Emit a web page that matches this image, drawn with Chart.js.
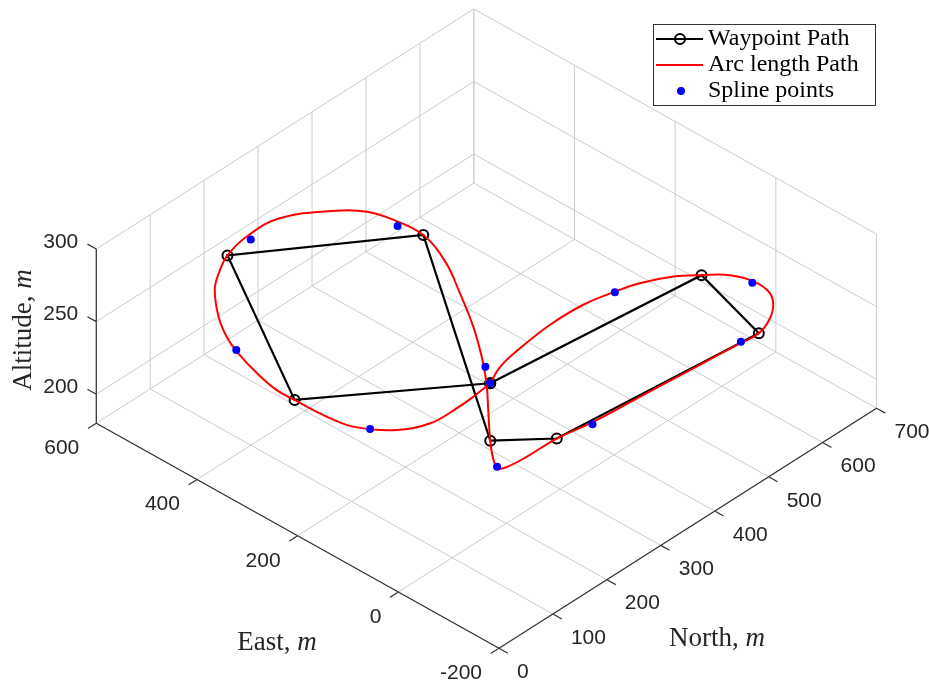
<!DOCTYPE html>
<html>
<head>
  <title>Waypoint Path 3D</title>
  <script src="https://cdn.jsdelivr.net/npm/chart.js"></script>
  <style>
    body {
      margin: 0;
      background: #fff;
    }
    canvas {
      display: block;
    }
  </style>
</head>
<body>
  <canvas id="pathChart" width="929" height="682"></canvas>

  <script>
    // axis limits and ticks
    const eastLim = [-200, 600];
    const northLim = [0, 700];
    const altLim = [180, 300];
    const eastTicks = [-200, 0, 200, 400, 600];
    const northTicks = [0, 100, 200, 300, 400, 500, 600, 700];
    const altTicks = [200, 250, 300];

    // waypoints, in flight order (loop is closed when drawn)
    const wpEast  = [81, -11, -144, -33, 82, 350, 499, 236];
    const wpNorth = [246, 552, 534, 263, 247, 373, 149, 28];
    const wpAlt   = [250, 270, 260, 230, 210, 270, 280, 260];

    // arc length path
    const arcEast  = [81, 93, 98, 98, 89, 70, 53, 21, -11, -39, -69, -97, -119, -136, -144, -130, -106, -78, -56, -33,
                      -17, -1, 13, 39, 82, 116, 143, 173, 210, 258, 306, 350, 399, 436, 465, 508, 510, 499, 481, 460,
                      416, 382, 351, 303, 264, 236, 185, 137, 90, 68, 70, 74];
    const arcNorth = [246, 276, 317, 373, 426, 467, 497, 530, 552, 579, 594, 596, 584, 562, 534, 500, 442, 375, 310, 263,
                      222, 200, 198, 213, 247, 275, 297, 316, 335, 355, 373, 373, 364, 349, 320, 254, 195, 149, 116, 89,
                      55, 38, 28, 21, 21, 28, 34, 44, 81, 123, 174, 208];
    const arcAlt   = [250, 252, 254, 257, 260, 263, 265, 268, 270, 269, 267, 265, 264, 262, 260, 256, 249, 241, 235, 230,
                      224, 219, 216, 213, 210, 218, 226, 234, 243, 252, 260, 270, 273, 275, 277, 279, 280, 280, 279, 278,
                      276, 273, 271, 267, 263, 260, 258, 257, 255, 254, 252, 251];

    // spline points
    const splEast  = [81, 69, -70, -132, -59, 17, 157, 385, 501, 354, 115];
    const splNorth = [246, 466, 591, 512, 305, 199, 308, 358, 194, 30, 55];
    const splAlt   = [250, 263, 267, 257, 235, 216, 232, 273, 280, 271, 257];

    // view settings (orthographic, like the matlab figure)
    const viewAz = 43.15 * Math.PI / 180;
    const viewEl = 36.6 * Math.PI / 180;
    const zAspect = 0.393;
    const tickLen = 0.022;

    function project(e, n, z) {
      const a = (e - eastLim[0]) / (eastLim[1] - eastLim[0]);
      const b = (n - northLim[0]) / (northLim[1] - northLim[0]);
      const c = (z - altLim[0]) / (altLim[1] - altLim[0]);
      return {
        x: -a * Math.cos(viewAz) + b * Math.sin(viewAz),
        y: (a * Math.sin(viewAz) + b * Math.cos(viewAz)) * Math.sin(viewEl) + c * zAspect * Math.cos(viewEl)
      };
    }

    const gap = { x: NaN, y: NaN };
    function seg(list, p, q) {
      list.push(project(p[0], p[1], p[2]), project(q[0], q[1], q[2]), gap);
    }

    // grid on the floor and the two back walls
    const grid = [];
    eastTicks.forEach(e => {
      seg(grid, [e, northLim[0], altLim[0]], [e, northLim[1], altLim[0]]);
      seg(grid, [e, northLim[1], altLim[0]], [e, northLim[1], altLim[1]]);
    });
    northTicks.forEach(n => {
      seg(grid, [eastLim[0], n, altLim[0]], [eastLim[1], n, altLim[0]]);
      seg(grid, [eastLim[1], n, altLim[0]], [eastLim[1], n, altLim[1]]);
    });
    altTicks.forEach(z => {
      seg(grid, [eastLim[1], northLim[0], z], [eastLim[1], northLim[1], z]);
      seg(grid, [eastLim[0], northLim[1], z], [eastLim[1], northLim[1], z]);
    });

    // axis lines and tick marks
    const axes = [];
    seg(axes, [eastLim[0], northLim[0], altLim[0]], [eastLim[1], northLim[0], altLim[0]]);
    seg(axes, [eastLim[0], northLim[0], altLim[0]], [eastLim[0], northLim[1], altLim[0]]);
    seg(axes, [eastLim[1], northLim[0], altLim[0]], [eastLim[1], northLim[0], altLim[1]]);
    const dE = tickLen * (eastLim[1] - eastLim[0]);
    const dN = tickLen * (northLim[1] - northLim[0]);
    eastTicks.forEach(e => seg(axes, [e, northLim[0], altLim[0]], [e, northLim[0] - dN, altLim[0]]));
    northTicks.forEach(n => seg(axes, [eastLim[0], n, altLim[0]], [eastLim[0] - dE, n, altLim[0]]));
    altTicks.forEach(z => seg(axes, [eastLim[1], northLim[0], z], [eastLim[1] + dE, northLim[0], z]));

    const wpPts = wpEast.map((e, i) => project(e, wpNorth[i], wpAlt[i]));
    const arcPts = arcEast.map((e, i) => project(e, arcNorth[i], arcAlt[i]));
    const splPts = splEast.map((e, i) => project(e, splNorth[i], splAlt[i]));

    function drawMixed(ctx, parts, cx, y) {
      let total = 0;
      parts.forEach(p => { ctx.font = p[1]; total += ctx.measureText(p[0]).width; });
      let x = cx - total / 2;
      parts.forEach(p => {
        ctx.font = p[1];
        ctx.fillText(p[0], x, y);
        x += ctx.measureText(p[0]).width;
      });
    }

    const annotate = {
      id: 'annotate',
      afterDraw(chart) {
        const ctx = chart.ctx;
        const sx = chart.scales.x, sy = chart.scales.y;
        const pix = p => [sx.getPixelForValue(p.x), sy.getPixelForValue(p.y)];
        ctx.save();

        // tick labels
        ctx.font = '21px "Liberation Sans", Arial, sans-serif';
        ctx.fillStyle = '#262626';
        ctx.textBaseline = 'middle';
        ctx.textAlign = 'right';
        eastTicks.forEach(e => {
          const [x, y] = pix(project(e, northLim[0], altLim[0]));
          ctx.fillText(String(e), x - 17, y + 25);
        });
        ctx.textAlign = 'left';
        northTicks.forEach(n => {
          const [x, y] = pix(project(eastLim[0], n, altLim[0]));
          ctx.fillText(String(n), x + 18, y + 24);
        });
        ctx.textAlign = 'right';
        altTicks.forEach(z => {
          const [x, y] = pix(project(eastLim[1], northLim[0], z));
          ctx.fillText(String(z), x - 18, y - 7);
        });

        // axis labels
        const serif = '27px "Liberation Serif", "Times New Roman", serif';
        const serifIt = 'italic 27px "Liberation Serif", "Times New Roman", serif';
        ctx.textAlign = 'left';
        ctx.textBaseline = 'alphabetic';
        drawMixed(ctx, [['East, ', serif], ['m', serifIt]], 277, 650);
        drawMixed(ctx, [['North, ', serif], ['m', serifIt]], 717, 646);
        ctx.save();
        ctx.translate(31, 330);
        ctx.rotate(-Math.PI / 2);
        drawMixed(ctx, [['Altitude, ', serif], ['m', serifIt]], 0, 0);
        ctx.restore();

        // legend
        ctx.fillStyle = '#fff';
        ctx.fillRect(653.5, 24.5, 222, 81);
        ctx.strokeStyle = '#333';
        ctx.lineWidth = 1;
        ctx.strokeRect(653.5, 24.5, 222, 81);

        ctx.lineWidth = 2;
        ctx.strokeStyle = '#000';
        ctx.beginPath(); ctx.moveTo(656, 39); ctx.lineTo(703, 39); ctx.stroke();
        ctx.beginPath(); ctx.arc(680, 39, 5, 0, Math.PI * 2); ctx.stroke();
        ctx.strokeStyle = '#ff0000';
        ctx.beginPath(); ctx.moveTo(656, 65); ctx.lineTo(703, 65); ctx.stroke();
        ctx.fillStyle = '#0000ff';
        ctx.beginPath(); ctx.arc(681, 91, 4, 0, Math.PI * 2); ctx.fill();

        ctx.fillStyle = '#000';
        ctx.font = '24px "Liberation Serif", "Times New Roman", serif';
        ctx.fillText('Waypoint Path', 708, 45);
        ctx.fillText('Arc length Path', 708, 71);
        ctx.fillText('Spline points', 708, 97);

        ctx.restore();
      }
    };

    new Chart(document.getElementById('pathChart'), {
      type: 'scatter',
      data: {
        datasets: [
          {
            label: 'Spline points',
            data: splPts,
            pointRadius: 4,
            pointBackgroundColor: '#0000ff',
            pointBorderColor: '#0000ff',
            pointBorderWidth: 0,
            order: 0
          },
          {
            label: 'Arc length Path',
            data: arcPts.concat([arcPts[0]]),
            showLine: true,
            borderColor: '#ff0000',
            borderWidth: 2,
            pointRadius: 0,
            tension: 0.4,
            order: 1
          },
          {
            label: 'Waypoint Path',
            data: wpPts.concat([wpPts[0]]),
            showLine: true,
            borderColor: '#000',
            borderWidth: 2.2,
            pointRadius: 5,
            pointBorderWidth: 2,
            pointBorderColor: '#000',
            pointBackgroundColor: 'rgba(0,0,0,0)',
            tension: 0,
            order: 2
          },
          {
            label: 'axes',
            data: axes,
            showLine: true,
            borderColor: '#333',
            borderWidth: 1.2,
            pointRadius: 0,
            spanGaps: false,
            order: 3
          },
          {
            label: 'grid',
            data: grid,
            showLine: true,
            borderColor: '#cccccc',
            borderWidth: 1,
            pointRadius: 0,
            spanGaps: false,
            order: 4
          }
        ]
      },
      options: {
        responsive: false,
        animation: false,
        devicePixelRatio: 1,
        layout: { padding: 0, autoPadding: false },
        scales: {
          x: { type: 'linear', display: false, min: -0.904, max: 0.779 },
          y: { type: 'linear', display: false, min: -0.0611, max: 1.1745 }
        },
        plugins: {
          legend: { display: false },
          tooltip: { enabled: false }
        }
      },
      plugins: [annotate]
    });
  </script>
</body>
</html>
